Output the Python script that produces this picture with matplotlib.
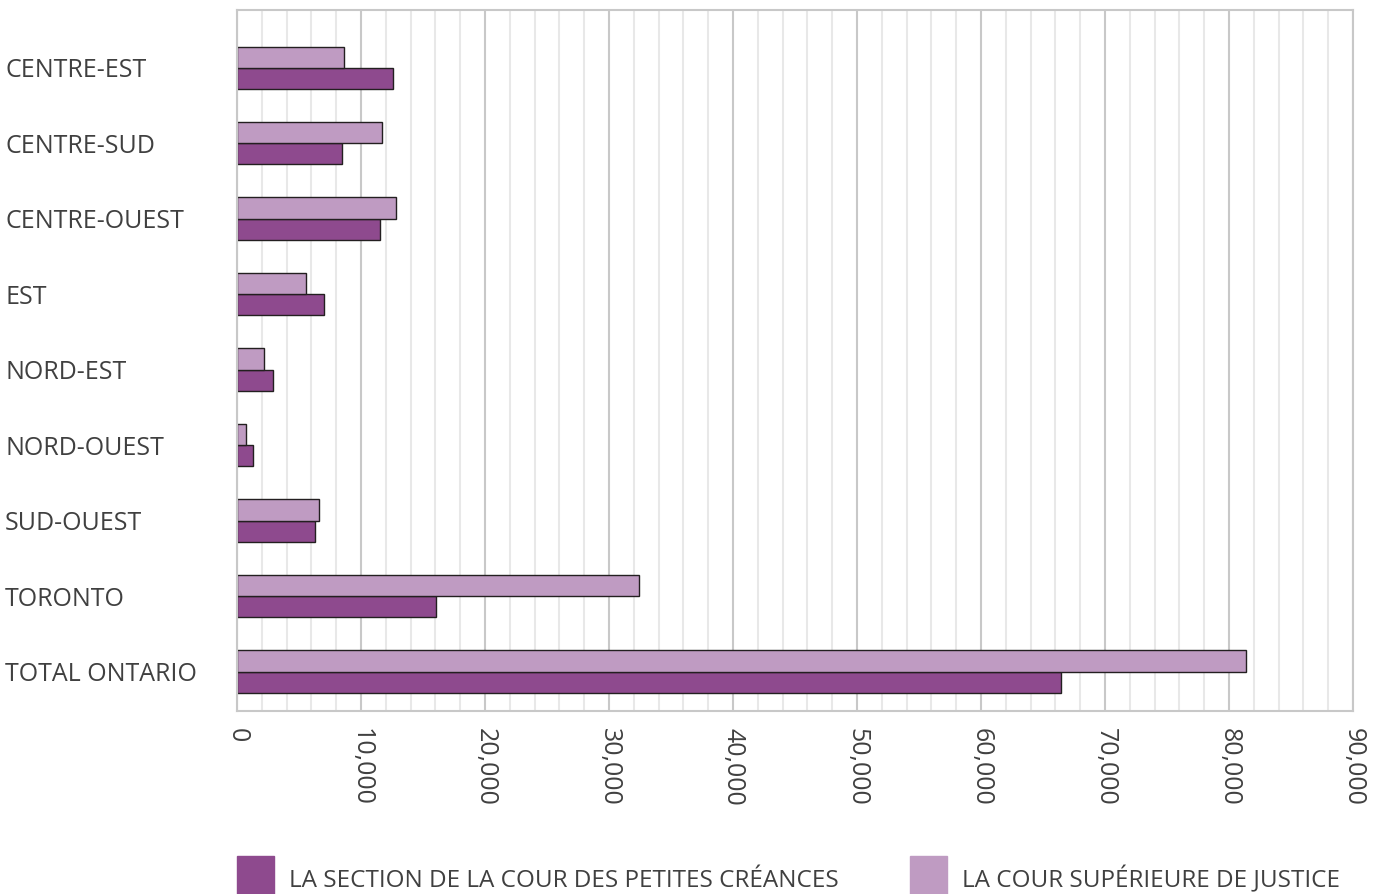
import numpy as np
import matplotlib
matplotlib.use("Agg")
import matplotlib.pyplot as plt
from matplotlib.patches import Rectangle
from matplotlib.ticker import MultipleLocator, FuncFormatter

regions = ["CENTRE-EST", "CENTRE-SUD", "CENTRE-OUEST", "EST", "NORD-EST",
           "NORD-OUEST", "SUD-OUEST", "TORONTO", "TOTAL ONTARIO"]
petites_creances = [12600, 8470, 11530, 7040, 2880, 1260, 6320, 16020, 66430]
cour_superieure = [8650, 11720, 12800, 5590, 2150, 730, 6640, 32420, 81370]
series_names = ["LA SECTION DE LA COUR DES PETITES CRÉANCES",
                "LA COUR SUPÉRIEURE DE JUSTICE"]

DARK = "#8E4A8E"
LIGHT = "#BF9BC2"
TEXT = "#404040"

plt.rcParams["font.family"] = ["Open Sans", "DejaVu Sans"]

W, H = 1382, 894
fig = plt.figure(figsize=(W / 100, H / 100), dpi=100)
ax = fig.add_axes([237 / W, 1 - 711 / H, (1353 - 237) / W, (711 - 10) / H])

y = np.arange(len(regions))
h = 0.28
ax.barh(y + h / 2, petites_creances, height=h, color=DARK,
        edgecolor="#231F20", linewidth=1)
ax.barh(y - h / 2, cour_superieure, height=h, color=LIGHT,
        edgecolor="#231F20", linewidth=1)

ax.set_xlim(0, 90000)
ax.set_ylim(len(regions) - 1 + 0.523, -0.764)
ax.set_yticks(y)
ax.set_yticklabels(regions)

ax.xaxis.set_major_locator(MultipleLocator(10000))
ax.xaxis.set_minor_locator(MultipleLocator(2000))
ax.xaxis.set_major_formatter(FuncFormatter(lambda v, p: f"{int(v):,}"))
ax.grid(axis="x", which="major", color="#C8C8C8", linewidth=1.5)
ax.grid(axis="x", which="minor", color="#E8E8E8", linewidth=1.5)
ax.set_axisbelow(True)

for s in ax.spines.values():
    s.set_color("#C8C8C8")
    s.set_linewidth(1.5)

ax.tick_params(axis="both", which="both", length=0, colors=TEXT, labelsize=18)
ax.tick_params(axis="x", pad=12)
for lbl in ax.get_xticklabels():
    lbl.set_rotation(-90)
    lbl.set_va("top")
    lbl.set_ha("center")
for lbl in ax.get_yticklabels():
    lbl.set_ha("left")
    lbl.set_x(-(237 - 10) / (1353 - 237))

# legend drawn by hand at the foot of the figure
for x0, col, name in [(237, DARK, series_names[0]), (910, LIGHT, series_names[1])]:
    fig.add_artist(Rectangle((x0 / W, 0), 37 / W, 38 / H,
                             transform=fig.transFigure, color=col))
    fig.text((x0 + 52) / W, 1 / H, name, fontsize=17.5, color=TEXT,
             ha="left", va="bottom")

fig.savefig("out.png", dpi=100)
